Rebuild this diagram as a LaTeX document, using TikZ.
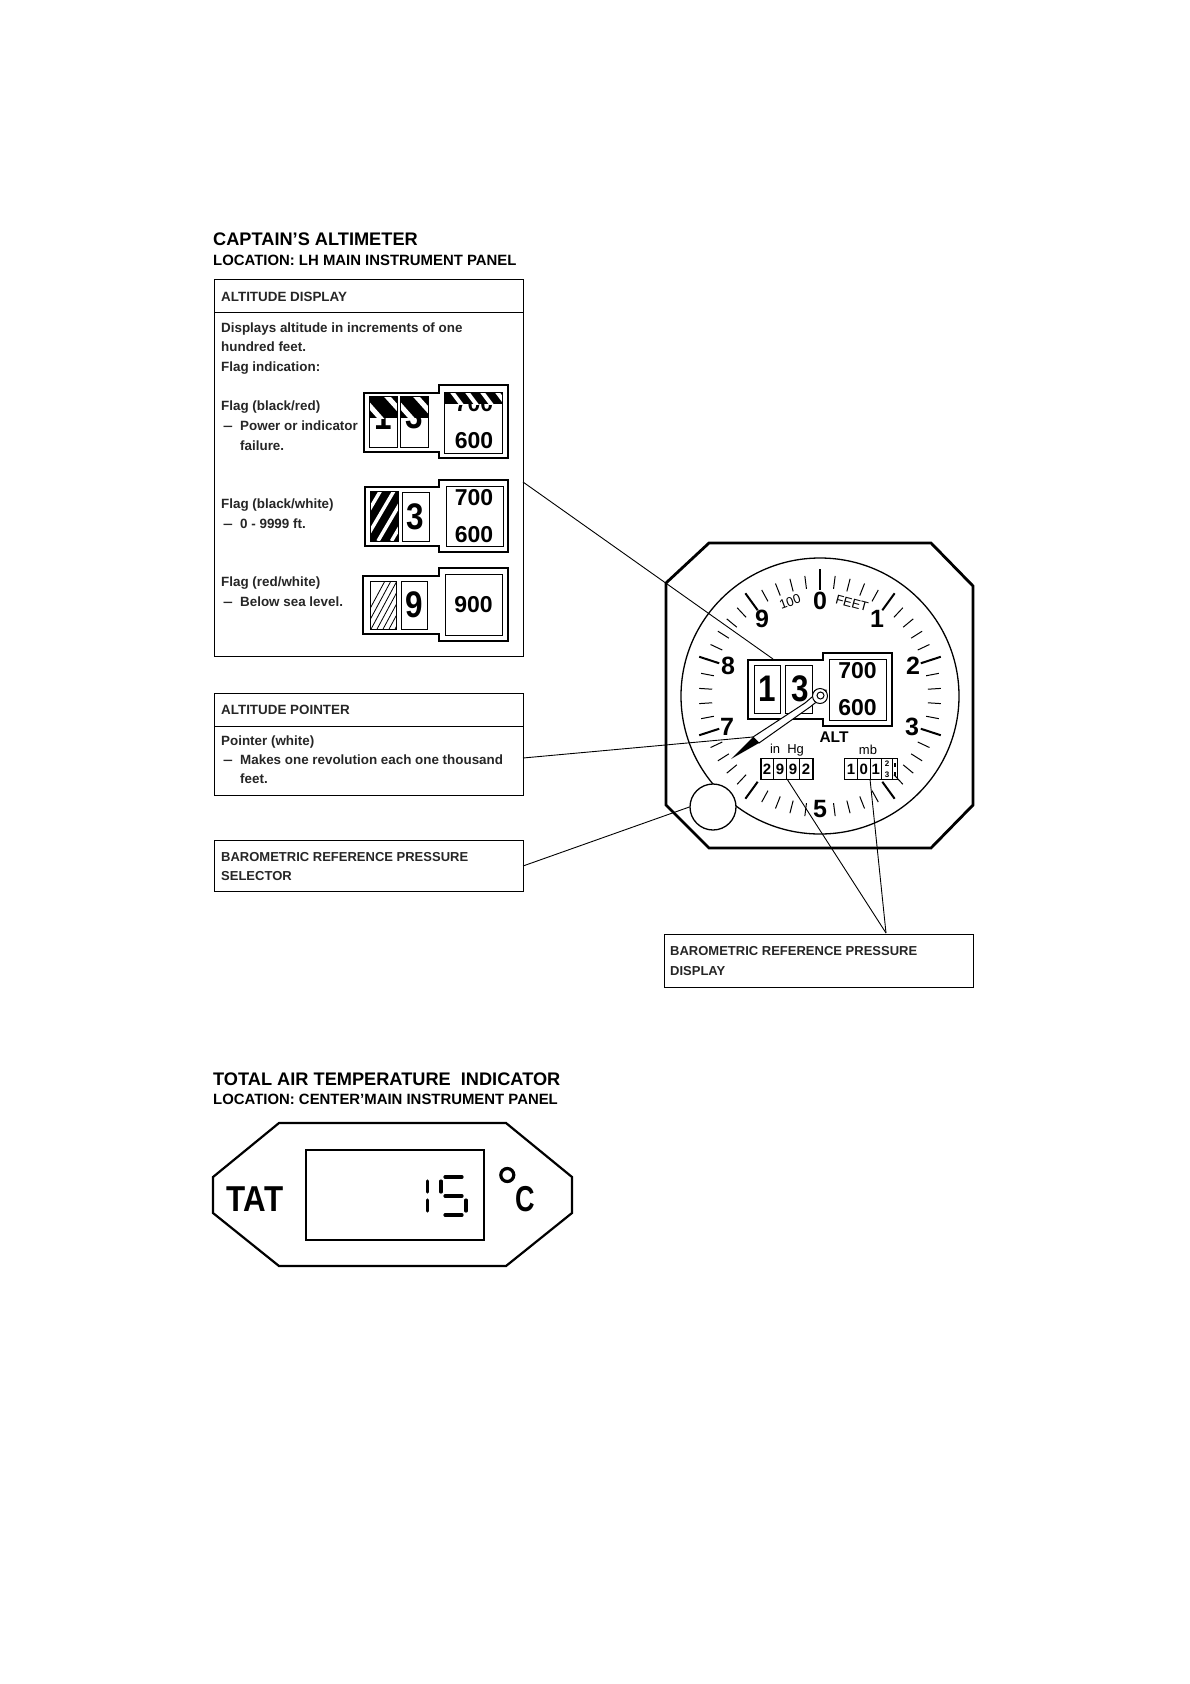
\documentclass[tikz,border=0pt]{standalone}
\usepackage{fontspec}
\setmainfont{Liberation Sans}
\usetikzlibrary{calc}
\newcommand{\bigdig}[1]{\scalebox{0.85}[1]{\fontsize{37}{40}\selectfont\bfseries #1}}
\newcommand{\dashmark}{\scalebox{1.3}[1]{–}}
\tikzset{
 x=1pt,y=-1pt,
 panel/.style={draw=black,line width=1pt,fill=none},
 leader/.style={draw=black,line width=0.9pt},
 lab/.style={anchor=base west,inner sep=0pt,font=\fontsize{13.4}{15}\selectfont\bfseries,text=black!85},
 labcaps/.style={anchor=base west,inner sep=0pt,font=\fontsize{13}{15}\selectfont\bfseries,text=black!85},
 ttl/.style={anchor=base west,inner sep=0pt,font=\fontsize{18.2}{20}\selectfont\bfseries},
 sub/.style={anchor=base west,inner sep=0pt,font=\fontsize{14.9}{16}\selectfont\bfseries},
 heavy/.style={draw=black,line width=2.8pt,line join=miter},
 disp/.style={draw=black,line width=1.8pt},
 win/.style={draw=black,line width=1pt},
 drum/.style={inner sep=0pt,font=\fontsize{23}{26}\selectfont\bfseries},
 dialnum/.style={inner sep=0pt,font=\fontsize{25}{27}\selectfont\bfseries},
 small/.style={inner sep=0pt,font=\fontsize{13}{15}\selectfont},
 baro/.style={inner sep=0pt,font=\fontsize{15}{17}\selectfont\bfseries},
 seg/.style={draw=black,line width=3.2pt,line cap=round},
 tick/.style={draw=black,line width=1pt},
 bigtick/.style={draw=black,line width=2pt},
}
\begin{document}
\begin{tikzpicture}
\useasboundingbox (0,0) rectangle (1190,1684);
\fill[white] (0,0) rectangle (1190,1684);
% titles
\node[ttl] (t1) at (213,245) {CAPTAIN'S ALTIMETER};
\node[sub] (t2) at (213,265) {LOCATION: LH MAIN INSTRUMENT PANEL};
\node[ttl] (t3) at (213,1085) {TOTAL AIR TEMPERATURE\ \ INDICATOR};
\node[sub] (t4) at (213,1104) {LOCATION: CENTER'MAIN INSTRUMENT PANEL};
% panel boxes
\node[panel,minimum width=309pt,minimum height=377pt,anchor=north west,inner sep=0pt] (pA) at (214,279) {};
\draw[panel] (pA.north west |- 0,312.5) -- (pA.north east |- 0,312.5);
\node[panel,minimum width=309pt,minimum height=102pt,anchor=north west,inner sep=0pt] (pB) at (214,693) {};
\draw[panel] (pB.north west |- 0,726) -- (pB.north east |- 0,726);
\node[panel,minimum width=309pt,minimum height=51pt,anchor=north west,inner sep=0pt] (pC) at (214,840) {};
\node[panel,minimum width=309pt,minimum height=53pt,anchor=north west,inner sep=0pt] (pD) at (664,934) {};
% panel text
\node[lab] (a1) at (221,301) {ALTITUDE DISPLAY};
\node[lab] (a2) at (221,332) {Displays altitude in increments of one};
\node[lab] (a3) at (221,351) {hundred feet.};
\node[lab] (a4) at (221,371) {Flag indication:};
\node[lab] (a5) at (221,410) {Flag (black/red)};
\node[lab] (a6) at (223,430) {\dashmark};
\node[lab] (a7) at (240,430) {Power or indicator};
\node[lab] (a8) at (240,450) {failure.};
\node[lab] (a9) at (221,508) {Flag (black/white)};
\node[lab] (a10) at (223,528) {\dashmark};
\node[lab] (a11) at (240,528) {0 - 9999 ft.};
\node[lab] (a12) at (221,586) {Flag (red/white)};
\node[lab] (a13) at (223,606) {\dashmark};
\node[lab] (a14) at (240,606) {Below sea level.};
\node[lab] (b1) at (221,714) {ALTITUDE POINTER};
\node[lab] (b2) at (221,745) {Pointer (white)};
\node[lab] (b3) at (223,764) {\dashmark};
\node[lab] (b4) at (240,764) {Makes one revolution each one thousand};
\node[lab] (b5) at (240,783) {feet.};
\node[labcaps] (c1) at (221,861) {BAROMETRIC REFERENCE PRESSURE};
\node[labcaps] (c2) at (221,880) {SELECTOR};
\node[labcaps] (d1) at (670,955) {BAROMETRIC REFERENCE PRESSURE};
\node[labcaps] (d2) at (670,975) {DISPLAY};
% flag A
\draw[disp] (364,393)--(439,393)--(439,385)--(508,385)--(508,458)--(439,458)--(439,452)--(364,452)--cycle;
\node[inner sep=0pt,minimum width=27pt,minimum height=50pt] (fa1) at (383.5,422) {};
\node[inner sep=0pt,minimum width=27pt,minimum height=50pt] (fa2) at (414.5,422) {};
\node[inner sep=0pt,minimum width=57pt,minimum height=60pt] (fa3) at (473.5,423) {};
\node[inner sep=0pt] (fa1t) at (383.5,416.5) {\bigdig{1}};
\node[inner sep=0pt] (fa2t) at (414.5,415.5) {\bigdig{3}};
\node[drum] (fa3a) at (474,404) {700};
\node[drum] (fa3b) at (474,441) {600};
\begin{scope}
 \clip (370,397) rectangle (397,418);
 \fill[black] (370,397) rectangle (397,418);
 \draw[white,line width=5pt] (384,393)--(402,413);
 \draw[white,line width=5pt] (367,403)--(383,421);
\end{scope}
\begin{scope}
 \clip (401,397) rectangle (428,418);
 \fill[black] (401,397) rectangle (428,418);
 \draw[white,line width=5pt] (413,393)--(431,413);
 \draw[white,line width=5pt] (398,403)--(414,421);
\end{scope}
\begin{scope}
 \clip (445,393) rectangle (502,404);
 \fill[black] (445,393) rectangle (502,404);
 \foreach \k in {0,1,2,3}{\draw[white,line width=4pt] (449+\k*15,388)--(464+\k*15,408);}
\end{scope}
\draw[win] (fa1.north west) rectangle (fa1.south east);
\draw[win] (fa2.north west) rectangle (fa2.south east);
\draw[win] (fa3.north west) rectangle (fa3.south east);
% flag B
\draw[disp] (365,487)--(439,487)--(439,480)--(508,480)--(508,552)--(439,552)--(439,546)--(365,546)--cycle;
\node[win,inner sep=0pt,minimum width=27pt,minimum height=49pt] (fb1) at (384.5,516.5) {};
\node[win,inner sep=0pt,minimum width=27pt,minimum height=49pt] (fb2) at (415.5,516.5) {\bigdig{3}};
\node[win,inner sep=0pt,minimum width=57pt,minimum height=60pt] (fb3) at (474.5,516) {};
\node[drum] (fb3a) at (474,498) {700};
\node[drum] (fb3b) at (474,535) {600};
\begin{scope}
 \clip (371,492) rectangle (398,541);
 \fill[black] (371,492) rectangle (398,541);
 \foreach \k in {0,1,2,3}{\draw[white,line width=3.5pt] (351+\k*13.5,541)--(381+\k*13.5,490);}
\end{scope}
\draw[win] (fb1.north west) rectangle (fb1.south east);
% flag C
\draw[disp] (363,576)--(439,576)--(439,568)--(508,568)--(508,641)--(439,641)--(439,634)--(363,634)--cycle;
\node[win,inner sep=0pt,minimum width=26pt,minimum height=48pt] (fc1) at (383,605) {};
\node[win,inner sep=0pt,minimum width=26pt,minimum height=48pt] (fc2) at (414,605) {\bigdig{9}};
\node[win,inner sep=0pt,minimum width=57pt,minimum height=61pt] (fc3) at (473.5,604.5) {\fontsize{23}{26}\selectfont\bfseries 900};
\begin{scope}
 \clip (370,581) rectangle (396,629);
 \foreach \k in {0,...,7}{\draw[black,line width=0.8pt] (358+\k*6,631)--(386+\k*6,579);}
\end{scope}
% altimeter
\coordinate (C) at (820,696);
\draw[heavy] (709,543)--(931,543)--(973,586)--(973,805)--(931,848)--(709,848)--(666,805)--(666,583)--cycle;
\draw[black,line width=1.3pt] (C) ellipse [x radius=139, y radius=138];
\foreach \k in {0,...,49}{
 \pgfmathtruncatemacro{\mm}{mod(\k,5)}
 \pgfmathsetmacro{\ang}{-\k*7.2+90}
 \ifnum\k=25\relax\else
 \ifnum\mm=0
  \draw[bigtick] ($(C)+({127*cos(\ang)},{-127*sin(\ang)})$)--($(C)+({106*cos(\ang)},{-106*sin(\ang)})$);
 \else
  \draw[tick] ($(C)+({121*cos(\ang)},{-121*sin(\ang)})$)--($(C)+({108*cos(\ang)},{-108*sin(\ang)})$);
 \fi\fi
}
\node[dialnum] (n0) at (820,601) {0};
\node[dialnum] (n1) at (877,619) {1};
\node[dialnum] (n2) at (913,666) {2};
\node[dialnum] (n3) at (912,727) {3};
\node[dialnum] (n5) at (820,809) {5};
\node[dialnum] (n7) at (727,727) {7};
\node[dialnum] (n8) at (728,666) {8};
\node[dialnum] (n9) at (762,619) {9};
\node[small,rotate=20] (n100) at (790,602) {100};
\node[small,rotate=-15] (nfeet) at (852,603) {FEET};
% drum display
\filldraw[disp,fill=white] (748,660)--(823,660)--(823,653)--(892,653)--(892,726)--(823,726)--(823,719)--(748,719)--cycle;
\node[win,inner sep=0pt,minimum width=26pt,minimum height=48pt] (w1) at (767,689) {\bigdig{1}};
\node[win,inner sep=0pt,minimum width=27pt,minimum height=48pt] (w2) at (798.5,689) {\hspace{3pt}\bigdig{3}};
\node[win,inner sep=0pt,minimum width=57pt,minimum height=61pt] (w3) at (857.5,689.5) {};
\node[drum] (w3a) at (857.5,671) {700};
\node[drum] (w3b) at (857.5,708) {600};
\node[inner sep=0pt,font=\fontsize{15.5}{17}\selectfont\bfseries] (alt) at (834,737) {ALT};
\node[small] (inhg) at (787,750) {in\ \ Hg};
\node[small] (mb) at (868,750) {mb};
% pointer
\filldraw[draw=black,line width=1pt,fill=white] (753,737)--(759,743)--(810,707)--(815,703)--(820,701)--(826,700)--(826,690)--(818,690)--(812,697)--(805,703)--cycle;
\fill[black] (731,759)--(753,737)--(759,743)--cycle;
\draw[black,line width=1pt,fill=white] (820,696) circle (7.5);
\draw[black,line width=1pt,fill=white] (820.5,695.5) circle (3.5);
% baro windows
\node[win,inner sep=0pt,minimum width=52pt,minimum height=21pt,line width=1.4pt] (hg) at (787,769) {};
\node[baro] (hg1) at (767,769) {2};
\node[baro] (hg2) at (780,769) {9};
\node[baro] (hg3) at (793,769) {9};
\node[baro] (hg4) at (806,769) {2};
\foreach \xx in {773.3,786.7,799.3}{\draw[win] (\xx,758.5)--(\xx,779.5);}
\node[win,inner sep=0pt,minimum width=53pt,minimum height=21pt,line width=1.4pt] (mbw) at (871,769) {};
\node[baro] (mb1) at (851,769) {1};
\node[baro] (mb2) at (863.7,769) {0};
\node[baro] (mb3) at (875.7,769) {1};
\node[inner sep=0pt,font=\fontsize{8}{9}\selectfont\bfseries] (mb4) at (887,764) {2};
\node[inner sep=0pt,font=\fontsize{8}{9}\selectfont\bfseries] (mb5) at (887,775) {3};
\foreach \xx in {857.3,870,881.7,892.3}{\draw[win] (\xx,758.5)--(\xx,779.5);}
\draw[black,line width=2pt] (894.8,763)--(894.8,767) (894.8,772)--(894.8,776);
% knob
\node[draw=black,line width=1.3pt,fill=white,circle,minimum size=46pt,inner sep=0pt] (knob) at (713,807) {};
% leaders
\coordinate (la) at (523,482);
\coordinate (lb) at (523,758);
\coordinate (lc) at (523,866);
\coordinate (ld) at (886,933);
\coordinate (e1) at (773,659);
\coordinate (e2) at (753,737);
\coordinate (e3) at (787,779);
\coordinate (e4) at (870,779);
\draw[leader] (la)--(e1);
\draw[leader] (lb)--(e2);
\draw[leader] (lc)--(knob.west);
\draw[leader] (ld)--(e3);
\draw[leader] (ld)--(e4);
% TAT
\draw[heavy,line width=2.2pt] (279,1123)--(506,1123)--(572,1177)--(572,1213)--(506,1266)--(279,1266)--(213,1213)--(213,1177)--cycle;
\node[draw=black,line width=1.6pt,inner sep=0pt,minimum width=178pt,minimum height=90pt] (lcd) at (395,1195) {};
\node[inner sep=0pt,font=\fontsize{36}{38}\selectfont] (tat) at (255,1199) {\scalebox{0.87}[1]{\bfseries TAT}};
\node[inner sep=0pt,font=\fontsize{36}{38}\selectfont] (cc) at (525,1199) {\scalebox{0.75}[1]{\bfseries C}};
\draw[black,line width=3.2pt] (507.3,1175) circle (6.5);
\node[inner sep=0pt,text opacity=0,font=\fontsize{30}{32}\selectfont] (fifteen) at (446,1197) {15};
\draw[seg] (427.7,1181)--(427.7,1192) (427.7,1200)--(427.7,1211);
\draw[seg] (445,1177)--(462,1177) (441,1181)--(441,1192) (445,1196)--(462,1196) (466,1200)--(466,1211) (445,1215)--(462,1215);
\end{tikzpicture}
\end{document}
